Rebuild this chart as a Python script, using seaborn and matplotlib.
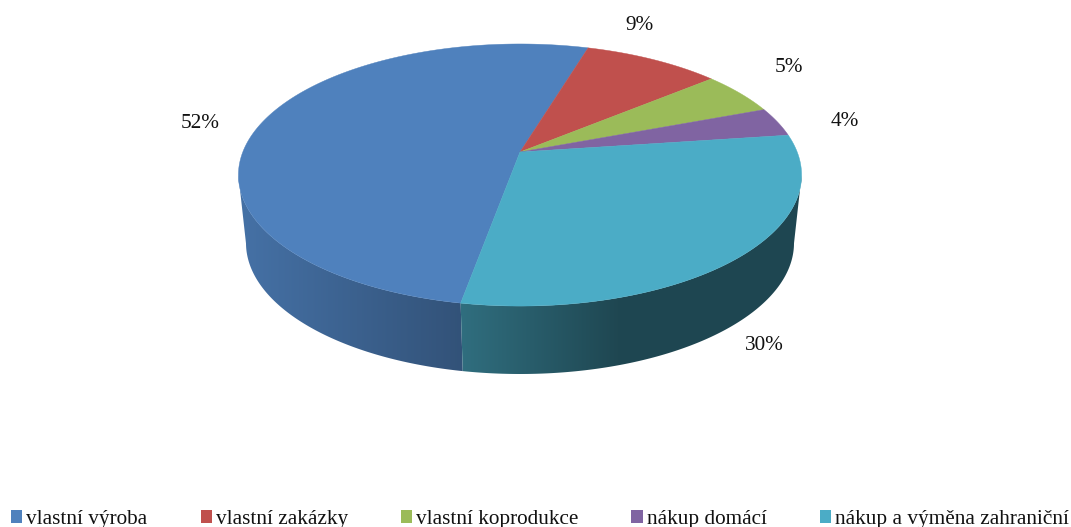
import numpy as np
import matplotlib
matplotlib.use("Agg")
import matplotlib.pyplot as plt
from matplotlib.patches import Patch, Polygon
import seaborn as sns

# Data
categories = ["vlastní výroba", "vlastní zakázky", "vlastní koprodukce", "nákup domácí", "nákup a výměna zahraniční"]
shares = [51.8, 9.3, 5.3, 3.6, 30.0]
colors = ["#4F81BD", "#C0504D", "#9BBB59", "#8064A2", "#4BACC6"]
label_pos = [(200, 123), (640, 26), (789, 68), (845, 121), (764, 346)]

# Pie geometry in pixels
apex = (520, 152)
top_c = (519.5, 175)
top_r = (281.5, 131)
bot_c = (520, 243)
bot_r = (274, 131)
start = 259.8
k = 0.1756
a = 277.2
b = 127.0

sns.set_theme(style="white")
plt.rcParams["font.family"] = ["Liberation Serif", "DejaVu Serif"]
palette = sns.color_palette(colors)


def rim(theta):
    # tilted circle: the centre of the pie sits above the centre of the ellipse
    t = np.radians(theta)
    d = 1 + k * np.sin(t)
    return apex[0] + a * np.cos(t) / d, apex[1] - b * np.sin(t) / d


def wall(x, y):
    p = np.arctan2((y - top_c[1]) / top_r[1], (x - top_c[0]) / top_r[0])
    return bot_c[0] + bot_r[0] * np.cos(p), bot_c[1] + bot_r[1] * np.sin(p)


fig, ax = plt.subplots(figsize=(10.71, 5.27), dpi=100)
fig.subplots_adjust(0, 0, 1, 1)

angle = start
for share, col in zip(shares, palette):
    end = angle - share * 3.6
    th = np.linspace(angle, end, max(int(share * 18), 8))
    x, y = rim(th)

    # side wall: a left to right gradient clipped to the visible part
    vis = y >= top_c[1]
    if vis.sum() > 1:
        xb, yb = wall(x[vis], y[vis])
        px = np.arange(np.floor(min(x[vis].min(), xb.min())), np.ceil(max(x[vis].max(), xb.max())) + 1)
        shade = np.interp(px, [247, 461, 620], [0.87, 0.64, 0.41])
        grad = (np.array(col)[None, :] * shade[:, None])[None, :, :]
        im = ax.imshow(grad, extent=(px[0], px[-1], yb.max() + 2, y[vis].min() - 2), aspect="auto",
                       interpolation="bilinear", zorder=2)
        clip = Polygon(np.c_[np.r_[x[vis], xb[::-1]], np.r_[y[vis], yb[::-1]]], closed=True,
                       transform=ax.transData, fc="none", ec="none")
        ax.add_patch(clip)
        im.set_clip_path(clip)

    # top face
    ax.fill(np.r_[apex[0], x], np.r_[apex[1], y], color=col, lw=0.3, zorder=3)
    angle = end

ax.set_xlim(0, 1071)
ax.set_ylim(527, 0)
ax.axis("off")

for share, pos in zip(shares, label_pos):
    ax.text(pos[0], pos[1], f"{round(share)}%", ha="center", va="center", fontsize=15.3, color="#111111")

handles = [Patch(facecolor=c, edgecolor="none") for c in palette]
ax.legend(handles, categories, loc="lower left", bbox_to_anchor=(0.0065, -0.012), ncol=5, frameon=False,
          fontsize=15.3, handlelength=0.52, handleheight=0.52, handletextpad=0.19,
          columnspacing=2.5, borderpad=0.1, borderaxespad=0.1, labelcolor="#111111")

fig.savefig("out.png", dpi=100)
